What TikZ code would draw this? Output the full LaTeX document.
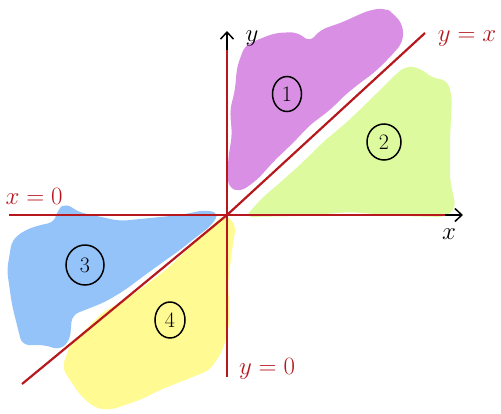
\documentclass[tikz,border=0pt]{standalone}
\usetikzlibrary{arrows.meta,shapes.geometric}
\definecolor{axred}{RGB}{182,24,30}
\definecolor{cpurple}{RGB}{217,144,228}
\definecolor{cgreen}{RGB}{221,250,158}
\definecolor{cblue}{RGB}{148,195,250}
\definecolor{cyellow}{RGB}{255,250,145}
\tikzset{
  blob/.style={rounded corners=7pt},
  redline/.style={draw=axred,line width=2.4pt},
  axisarrow/.style={draw=black,line width=1.5pt,-{Straight Barb[length=7pt,width=13pt,line width=1.5pt]}},
  redlabel/.style={text=axred,font=\fontsize{25}{28}\selectfont,inner sep=0pt},
  blacklabel/.style={text=black,font=\fontsize{28}{30}\selectfont,inner sep=0pt},
  region/.style={draw=black,line width=1.5pt,ellipse,inner sep=0pt,font=\fontsize{22}{24}\selectfont},
}
\begin{document}
\begin{tikzpicture}[x=1pt,y=-1pt]
\useasboundingbox (0,0) rectangle (501,413);
% regions
\fill[cgreen,blob] (245,217) -- (262,198) -- (282,181) -- (302,163) -- (322,143) -- (347,122) -- (372,98) -- (396,74) -- (406,66) -- (420,68) -- (432,78) -- (447,80) -- (452,96) -- (450,140) -- (450,180) -- (456,208) -- (445,217) -- (400,216) -- (350,212) -- (300,216) -- cycle;
\fill[cpurple,blob] (237,67) -- (245,45) -- (262,38) -- (275,33) -- (297,32) -- (310,42) -- (320,30) -- (343,22) -- (358,15) -- (370,10) -- (385,8) -- (393,13) -- (403,25) -- (403,42) -- (392,55) -- (375,72) -- (360,83) -- (345,95) -- (330,110) -- (310,125) -- (293,143) -- (275,160) -- (257,180) -- (240,192) -- (228,187) -- (228,160) -- (232,135) -- (230,110) -- (235,90) -- cycle;
\fill[cblue,blob] (57,210) -- (66,203) -- (78,212) -- (120,221) -- (150,218) -- (180,215) -- (205,210) -- (219,213) -- (212,225) -- (195,238) -- (180,250) -- (163,262) -- (145,275) -- (125,290) -- (105,302) -- (85,310) -- (72,315) -- (70,340) -- (60,350) -- (45,345) -- (35,345) -- (22,345) -- (12,305) -- (7,270) -- (12,240) -- (25,230) -- (40,225) -- (55,222) -- cycle;
\fill[cyellow,blob] (225,214) -- (236,225) -- (232,250) -- (228,283) -- (230,320) -- (223,350) -- (210,370) -- (190,378) -- (160,390) -- (140,400) -- (110,410) -- (95,408) -- (80,395) -- (62,368) -- (70,345) -- (85,330) -- (103,312) -- (125,300) -- (150,282) -- (168,268) -- (187,250) -- (207,230) -- cycle;
% axes
\coordinate (O) at (227,215);
\coordinate (xl) at (9,215);
\coordinate (xr) at (445,215);
\coordinate (xtip) at (463,215);
\coordinate (yb) at (227,377);
\coordinate (yt) at (227,50);
\coordinate (ytip) at (227,31);
\coordinate (dl) at (22,384);
\coordinate (dr) at (425,33);
\draw[redline] (xl) -- (xr);
\draw[axisarrow] (xr) -- (xtip);
\draw[redline] (yb) -- (yt);
\draw[axisarrow] (yt) -- (ytip);
\draw[redline,line width=2.2pt] (dl) -- (O) -- (dr);
% labels
\node[redlabel] (lx0) at (34,196) {$x=0$};
\node[redlabel] (lyx) at (467,39) {$y=x$};
\node[redlabel] (ly0) at (267,369) {$y=0$};
\node[blacklabel] (ly) at (252,39) {$y$};
\node[blacklabel] (lx) at (449,234) {$x$};
% circled numbers
\node[region,minimum width=29pt,minimum height=35pt] (r1) at (287,94) {1};
\node[region,minimum width=34pt,minimum height=36pt] (r2) at (384,142) {2};
\node[region,minimum width=38pt,minimum height=40pt] (r3) at (85,265) {3};
\node[region,minimum width=30pt,minimum height=36pt] (r4) at (170,320) {4};
\end{tikzpicture}
\end{document}
